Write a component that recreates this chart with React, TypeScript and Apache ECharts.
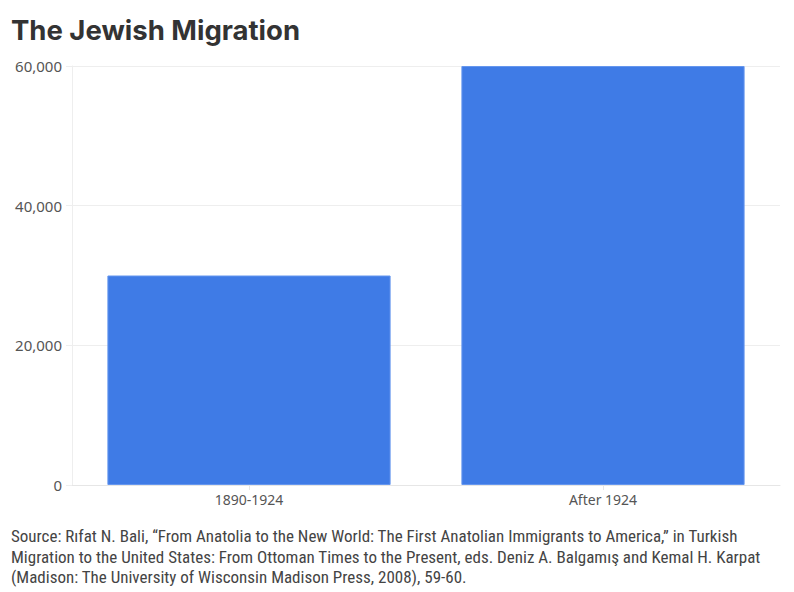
import React, { useEffect, useRef } from "react";
import * as echarts from "echarts";

const categories = ["1890-1924", "After 1924"];
const migrants = [30000, 60000];
const yTicks = { min: 0, max: 60000, interval: 20000 };
const title = "The Jewish Migration";
const sourceLines = [
  "Source: R\u0131fat N. Bali, \u201cFrom Anatolia to the New World: The First Anatolian Immigrants to America,\u201d in Turkish",
  "Migration to the United States: From Ottoman Times to the Present, eds. Deniz A. Balgam\u0131\u015f and Kemal H. Karpat",
  "(Madison: The University of Wisconsin Madison Press, 2008), 59-60.",
];

export default function App() {
  const ref = useRef<HTMLDivElement>(null);
  useEffect(() => {
    const chart = echarts.init(ref.current!, null, { renderer: "svg" });
    chart.setOption({
      animation: false,
      backgroundColor: "#ffffff",
      title: {
        text: title,
        left: 6,
        top: 11,
        textStyle: {
          fontFamily: "Inter",
          fontWeight: 700,
          fontSize: 27.5,
          color: "#333333",
        },
      },
      grid: { left: 72, right: 14, top: 66, bottom: 107 },
      xAxis: {
        type: "category",
        data: categories,
        axisLine: { show: true, lineStyle: { color: "#e6e6e6" } },
        axisTick: { show: true, alignWithLabel: true, length: 5, lineStyle: { color: "#e6e6e6" } },
        axisLabel: { color: "#555555", fontSize: 14, margin: 7, fontFamily: "Noto Sans" },
      },
      yAxis: {
        type: "value",
        min: yTicks.min,
        max: yTicks.max,
        interval: yTicks.interval,
        axisLine: { show: true, lineStyle: { color: "#eeeeee" } },
        axisTick: { show: true, length: 6, lineStyle: { color: "#eeeeee" } },
        splitLine: { show: true, lineStyle: { color: "#eeeeee" } },
        axisLabel: {
          color: "#555555",
          fontSize: 15,
          margin: 10,
          fontFamily: "Noto Sans",
          formatter: (v: number) => v.toLocaleString("en-US"),
        },
      },
      series: [
        {
          type: "bar",
          data: migrants,
          barWidth: "80%",
          itemStyle: { color: "#3f7be6", borderColor: "#6596ee", borderWidth: 1 },
        },
      ],
      graphic: [
        {
          type: "text",
          left: 11,
          top: 526,
          style: {
            text: sourceLines.join("\n"),
            fontFamily: "Liberation Sans Narrow, Roboto Condensed, Roboto",
            fontSize: 17,
            lineHeight: 20.5,
            fill: "#444444",
          },
        },
      ],
    });
    return () => chart.dispose();
  }, []);
  return (
    <div
      ref={ref}
      style={{ position: "absolute", left: 0, top: 0, width: 794, height: 592 }}
    />
  );
}
